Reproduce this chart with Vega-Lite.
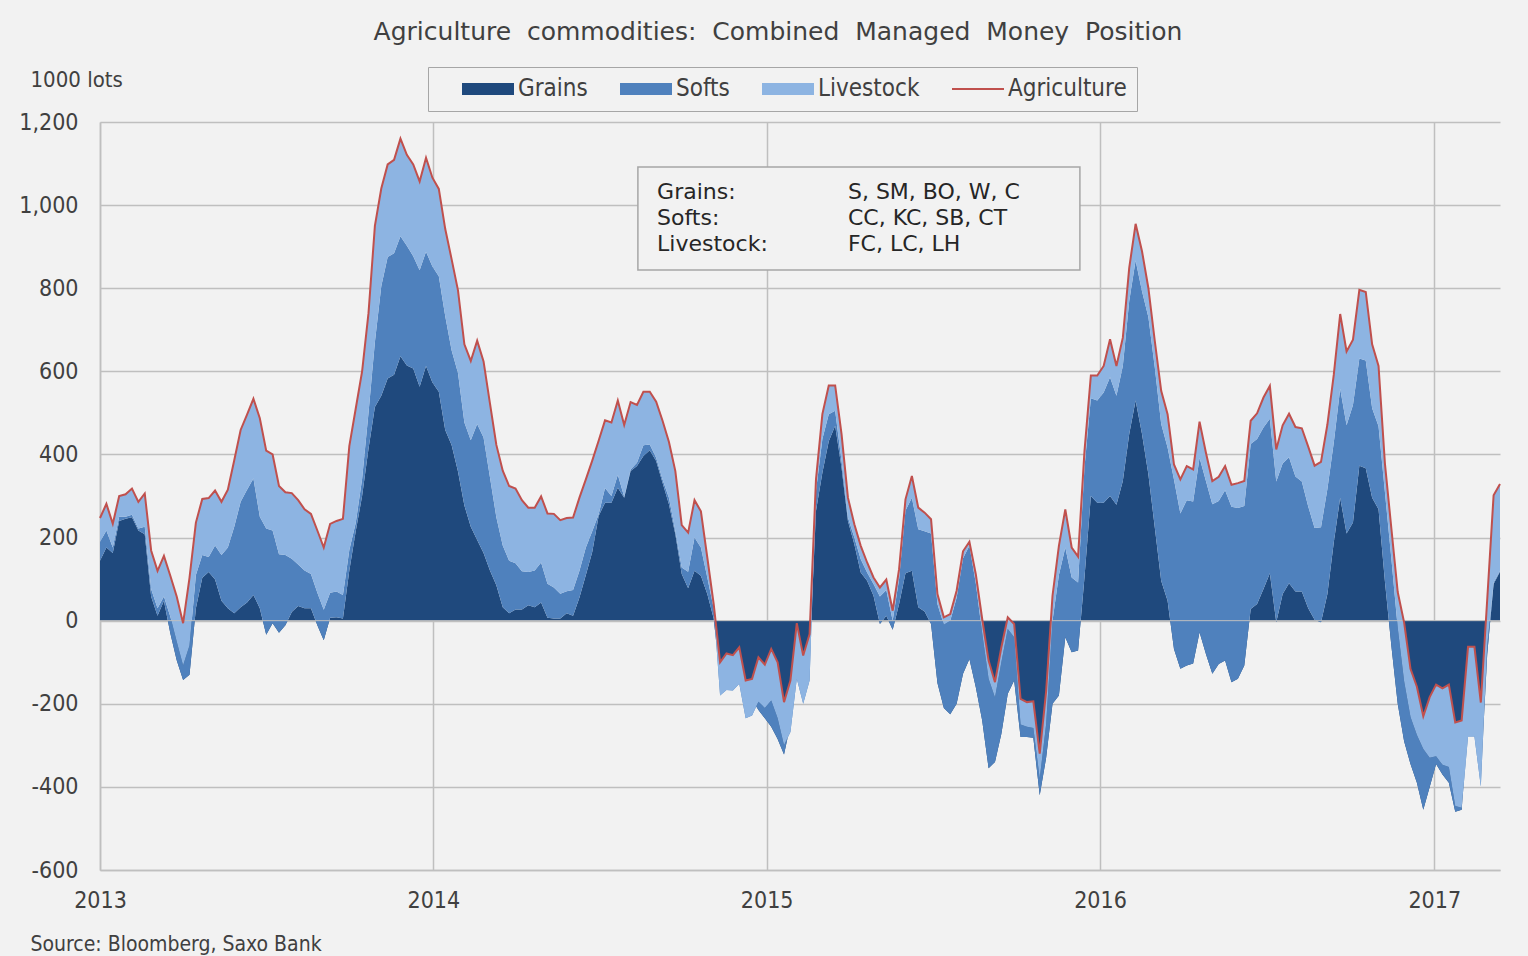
{
"$schema": "https://vega.github.io/schema/vega-lite/v6.json",
"width": 1400, "height": 748,
"autosize": {"type": "none"},
"padding": {"left": 100, "top": 122, "right": 28, "bottom": 86},
"background": "#f2f2f2",
"title": {"text": "Agriculture \u00a0commodities: \u00a0Combined \u00a0Managed \u00a0Money \u00a0Position", "font": "DejaVu Sans", "fontSize": 25, "fontWeight": "normal", "color": "#404040", "anchor": "middle", "frame": "group", "dx": -22, "offset": 22},
"data": {"values": [
{"d":"2013-01-01","Grains":144,"Softs":46,"Livestock":57,"Agriculture":247},
{"d":"2013-01-08","Grains":176,"Softs":41,"Livestock":64,"Agriculture":281},
{"d":"2013-01-15","Grains":163,"Softs":13,"Livestock":57,"Agriculture":233},
{"d":"2013-01-22","Grains":240,"Softs":10,"Livestock":50,"Agriculture":300},
{"d":"2013-01-29","Grains":245,"Softs":5,"Livestock":54,"Agriculture":304},
{"d":"2013-02-05","Grains":249,"Softs":6,"Livestock":63,"Agriculture":318},
{"d":"2013-02-12","Grains":217,"Softs":5,"Livestock":64,"Agriculture":286},
{"d":"2013-02-19","Grains":208,"Softs":18,"Livestock":80,"Agriculture":306},
{"d":"2013-02-26","Grains":58,"Softs":18,"Livestock":93,"Agriculture":169},
{"d":"2013-03-05","Grains":12,"Softs":18,"Livestock":90,"Agriculture":120},
{"d":"2013-03-12","Grains":48,"Softs":10,"Livestock":98,"Agriculture":156},
{"d":"2013-03-19","Grains":-30,"Softs":40,"Livestock":98,"Agriculture":108},
{"d":"2013-03-26","Grains":-95,"Softs":45,"Livestock":108,"Agriculture":58},
{"d":"2013-04-02","Grains":-143,"Softs":35,"Livestock":102,"Agriculture":-6},
{"d":"2013-04-09","Grains":-130,"Softs":70,"Livestock":163,"Agriculture":103},
{"d":"2013-04-16","Grains":30,"Softs":80,"Livestock":126,"Agriculture":236},
{"d":"2013-04-23","Grains":103,"Softs":55,"Livestock":135,"Agriculture":293},
{"d":"2013-04-30","Grains":117,"Softs":36,"Livestock":142,"Agriculture":295},
{"d":"2013-05-07","Grains":99,"Softs":82,"Livestock":132,"Agriculture":313},
{"d":"2013-05-14","Grains":48,"Softs":110,"Livestock":128,"Agriculture":286},
{"d":"2013-05-21","Grains":30,"Softs":146,"Livestock":139,"Agriculture":315},
{"d":"2013-05-28","Grains":18,"Softs":208,"Livestock":160,"Agriculture":386},
{"d":"2013-06-04","Grains":32,"Softs":254,"Livestock":173,"Agriculture":459},
{"d":"2013-06-11","Grains":44,"Softs":271,"Livestock":181,"Agriculture":496},
{"d":"2013-06-18","Grains":62,"Softs":280,"Livestock":192,"Agriculture":534},
{"d":"2013-06-25","Grains":30,"Softs":220,"Livestock":237,"Agriculture":487},
{"d":"2013-07-02","Grains":-34,"Softs":256,"Livestock":187,"Agriculture":409},
{"d":"2013-07-09","Grains":-6,"Softs":223,"Livestock":183,"Agriculture":400},
{"d":"2013-07-16","Grains":-29,"Softs":189,"Livestock":164,"Agriculture":324},
{"d":"2013-07-23","Grains":-11,"Softs":169,"Livestock":151,"Agriculture":309},
{"d":"2013-07-30","Grains":21,"Softs":128,"Livestock":158,"Agriculture":307},
{"d":"2013-08-06","Grains":35,"Softs":100,"Livestock":155,"Agriculture":290},
{"d":"2013-08-13","Grains":30,"Softs":91,"Livestock":147,"Agriculture":268},
{"d":"2013-08-20","Grains":30,"Softs":82,"Livestock":145,"Agriculture":257},
{"d":"2013-08-27","Grains":-11,"Softs":78,"Livestock":150,"Agriculture":217},
{"d":"2013-09-03","Grains":-47,"Softs":73,"Livestock":150,"Agriculture":176},
{"d":"2013-09-10","Grains":7,"Softs":60,"Livestock":166,"Agriculture":233},
{"d":"2013-09-17","Grains":8,"Softs":62,"Livestock":170,"Agriculture":240},
{"d":"2013-09-24","Grains":5,"Softs":57,"Livestock":183,"Agriculture":245},
{"d":"2013-10-01","Grains":121,"Softs":49,"Livestock":250,"Agriculture":420},
{"d":"2013-10-08","Grains":215,"Softs":20,"Livestock":275,"Agriculture":510},
{"d":"2013-10-15","Grains":300,"Softs":41,"Livestock":259,"Agriculture":600},
{"d":"2013-10-22","Grains":414,"Softs":86,"Livestock":240,"Agriculture":740},
{"d":"2013-10-29","Grains":514,"Softs":156,"Livestock":280,"Agriculture":950},
{"d":"2013-11-05","Grains":541,"Softs":264,"Livestock":235,"Agriculture":1040},
{"d":"2013-11-12","Grains":583,"Softs":292,"Livestock":223,"Agriculture":1098},
{"d":"2013-11-19","Grains":592,"Softs":292,"Livestock":225,"Agriculture":1109},
{"d":"2013-11-26","Grains":636,"Softs":289,"Livestock":235,"Agriculture":1160},
{"d":"2013-12-03","Grains":614,"Softs":288,"Livestock":219,"Agriculture":1121},
{"d":"2013-12-10","Grains":607,"Softs":270,"Livestock":221,"Agriculture":1098},
{"d":"2013-12-17","Grains":563,"Softs":280,"Livestock":214,"Agriculture":1057},
{"d":"2013-12-24","Grains":613,"Softs":275,"Livestock":226,"Agriculture":1114},
{"d":"2013-12-31","Grains":573,"Softs":279,"Livestock":214,"Agriculture":1066},
{"d":"2014-01-07","Grains":551,"Softs":278,"Livestock":210,"Agriculture":1039},
{"d":"2014-01-14","Grains":459,"Softs":274,"Livestock":210,"Agriculture":943},
{"d":"2014-01-21","Grains":423,"Softs":228,"Livestock":219,"Agriculture":870},
{"d":"2014-01-28","Grains":359,"Softs":237,"Livestock":199,"Agriculture":795},
{"d":"2014-02-04","Grains":277,"Softs":200,"Livestock":188,"Agriculture":665},
{"d":"2014-02-11","Grains":226,"Softs":208,"Livestock":191,"Agriculture":625},
{"d":"2014-02-18","Grains":194,"Softs":279,"Livestock":201,"Agriculture":674},
{"d":"2014-02-25","Grains":163,"Softs":278,"Livestock":183,"Agriculture":624},
{"d":"2014-03-04","Grains":121,"Softs":224,"Livestock":178,"Agriculture":523},
{"d":"2014-03-11","Grains":85,"Softs":164,"Livestock":174,"Agriculture":423},
{"d":"2014-03-18","Grains":32,"Softs":149,"Livestock":180,"Agriculture":361},
{"d":"2014-03-25","Grains":18,"Softs":126,"Livestock":180,"Agriculture":324},
{"d":"2014-04-01","Grains":27,"Softs":111,"Livestock":180,"Agriculture":318},
{"d":"2014-04-08","Grains":27,"Softs":92,"Livestock":171,"Agriculture":290},
{"d":"2014-04-15","Grains":37,"Softs":80,"Livestock":155,"Agriculture":272},
{"d":"2014-04-22","Grains":32,"Softs":89,"Livestock":151,"Agriculture":272},
{"d":"2014-04-29","Grains":44,"Softs":96,"Livestock":159,"Agriculture":299},
{"d":"2014-05-06","Grains":7,"Softs":82,"Livestock":169,"Agriculture":258},
{"d":"2014-05-13","Grains":5,"Softs":75,"Livestock":177,"Agriculture":257},
{"d":"2014-05-20","Grains":5,"Softs":60,"Livestock":177,"Agriculture":242},
{"d":"2014-05-27","Grains":18,"Softs":53,"Livestock":176,"Agriculture":247},
{"d":"2014-06-03","Grains":12,"Softs":62,"Livestock":174,"Agriculture":248},
{"d":"2014-06-10","Grains":56,"Softs":64,"Livestock":176,"Agriculture":296},
{"d":"2014-06-17","Grains":110,"Softs":66,"Livestock":164,"Agriculture":340},
{"d":"2014-06-24","Grains":165,"Softs":50,"Livestock":170,"Agriculture":385},
{"d":"2014-07-01","Grains":252,"Softs":4,"Livestock":177,"Agriculture":433},
{"d":"2014-07-08","Grains":284,"Softs":35,"Livestock":163,"Agriculture":482},
{"d":"2014-07-15","Grains":284,"Softs":16,"Livestock":177,"Agriculture":477},
{"d":"2014-07-22","Grains":320,"Softs":31,"Livestock":179,"Agriculture":530},
{"d":"2014-07-29","Grains":296,"Softs":2,"Livestock":173,"Agriculture":471},
{"d":"2014-08-05","Grains":360,"Softs":4,"Livestock":162,"Agriculture":526},
{"d":"2014-08-12","Grains":372,"Softs":8,"Livestock":139,"Agriculture":519},
{"d":"2014-08-19","Grains":396,"Softs":26,"Livestock":129,"Agriculture":551},
{"d":"2014-08-26","Grains":410,"Softs":14,"Livestock":127,"Agriculture":551},
{"d":"2014-09-02","Grains":384,"Softs":8,"Livestock":135,"Agriculture":527},
{"d":"2014-09-09","Grains":332,"Softs":8,"Livestock":141,"Agriculture":481},
{"d":"2014-09-16","Grains":280,"Softs":16,"Livestock":134,"Agriculture":430},
{"d":"2014-09-23","Grains":208,"Softs":8,"Livestock":144,"Agriculture":360},
{"d":"2014-09-30","Grains":112,"Softs":16,"Livestock":102,"Agriculture":230},
{"d":"2014-10-07","Grains":78,"Softs":40,"Livestock":94,"Agriculture":212},
{"d":"2014-10-14","Grains":120,"Softs":80,"Livestock":90,"Agriculture":290},
{"d":"2014-10-21","Grains":108,"Softs":68,"Livestock":87,"Agriculture":263},
{"d":"2014-10-28","Grains":64,"Softs":40,"Livestock":48,"Agriculture":152},
{"d":"2014-11-04","Grains":5,"Softs":25,"Livestock":10,"Agriculture":40},
{"d":"2014-11-11","Grains":-140,"Softs":-40,"Livestock":80,"Agriculture":-100},
{"d":"2014-11-18","Grains":-120,"Softs":-47,"Livestock":88,"Agriculture":-79},
{"d":"2014-11-25","Grains":-120,"Softs":-48,"Livestock":85,"Agriculture":-83},
{"d":"2014-12-02","Grains":-110,"Softs":-42,"Livestock":88,"Agriculture":-64},
{"d":"2014-12-09","Grains":-190,"Softs":-45,"Livestock":91,"Agriculture":-144},
{"d":"2014-12-16","Grains":-190,"Softs":-38,"Livestock":88,"Agriculture":-140},
{"d":"2014-12-23","Grains":-215,"Softs":20,"Livestock":107,"Agriculture":-88},
{"d":"2014-12-30","Grains":-235,"Softs":25,"Livestock":104,"Agriculture":-106},
{"d":"2015-01-06","Grains":-255,"Softs":63,"Livestock":124,"Agriculture":-68},
{"d":"2015-01-13","Grains":-285,"Softs":50,"Livestock":135,"Agriculture":-100},
{"d":"2015-01-20","Grains":-322,"Softs":22,"Livestock":104,"Agriculture":-196},
{"d":"2015-01-27","Grains":-250,"Softs":-18,"Livestock":124,"Agriculture":-144},
{"d":"2015-02-03","Grains":-100,"Softs":-40,"Livestock":134,"Agriculture":-6},
{"d":"2015-02-10","Grains":-150,"Softs":-50,"Livestock":116,"Agriculture":-84},
{"d":"2015-02-17","Grains":-90,"Softs":-54,"Livestock":112,"Agriculture":-32},
{"d":"2015-02-24","Grains":264,"Softs":48,"Livestock":28,"Agriculture":340},
{"d":"2015-03-03","Grains":356,"Softs":81,"Livestock":60,"Agriculture":497},
{"d":"2015-03-10","Grains":432,"Softs":65,"Livestock":69,"Agriculture":566},
{"d":"2015-03-17","Grains":469,"Softs":36,"Livestock":61,"Agriculture":566},
{"d":"2015-03-24","Grains":368,"Softs":16,"Livestock":65,"Agriculture":449},
{"d":"2015-03-31","Grains":240,"Softs":8,"Livestock":48,"Agriculture":296},
{"d":"2015-04-07","Grains":184,"Softs":16,"Livestock":32,"Agriculture":232},
{"d":"2015-04-14","Grains":116,"Softs":32,"Livestock":32,"Agriculture":180},
{"d":"2015-04-21","Grains":96,"Softs":20,"Livestock":24,"Agriculture":140},
{"d":"2015-04-28","Grains":60,"Softs":28,"Livestock":16,"Agriculture":104},
{"d":"2015-05-05","Grains":-8,"Softs":66,"Livestock":22,"Agriculture":80},
{"d":"2015-05-12","Grains":12,"Softs":62,"Livestock":25,"Agriculture":99},
{"d":"2015-05-19","Grains":-22,"Softs":22,"Livestock":24,"Agriculture":24},
{"d":"2015-05-26","Grains":40,"Softs":60,"Livestock":24,"Agriculture":124},
{"d":"2015-06-02","Grains":114,"Softs":151,"Livestock":27,"Agriculture":292},
{"d":"2015-06-09","Grains":120,"Softs":176,"Livestock":52,"Agriculture":348},
{"d":"2015-06-16","Grains":32,"Softs":188,"Livestock":52,"Agriculture":272},
{"d":"2015-06-23","Grains":22,"Softs":193,"Livestock":45,"Agriculture":260},
{"d":"2015-06-30","Grains":-8,"Softs":218,"Livestock":34,"Agriculture":244},
{"d":"2015-07-07","Grains":-150,"Softs":190,"Livestock":24,"Agriculture":64},
{"d":"2015-07-14","Grains":-210,"Softs":200,"Livestock":18,"Agriculture":8},
{"d":"2015-07-21","Grains":-225,"Softs":225,"Livestock":16,"Agriculture":16},
{"d":"2015-07-28","Grains":-200,"Softs":255,"Livestock":17,"Agriculture":72},
{"d":"2015-08-04","Grains":-128,"Softs":278,"Livestock":17,"Agriculture":167},
{"d":"2015-08-11","Grains":-92,"Softs":272,"Livestock":10,"Agriculture":190},
{"d":"2015-08-18","Grains":-160,"Softs":250,"Livestock":22,"Agriculture":112},
{"d":"2015-08-25","Grains":-240,"Softs":210,"Livestock":34,"Agriculture":4},
{"d":"2015-09-01","Grains":-355,"Softs":215,"Livestock":44,"Agriculture":-96},
{"d":"2015-09-08","Grains":-340,"Softs":155,"Livestock":37,"Agriculture":-148},
{"d":"2015-09-15","Grains":-272,"Softs":172,"Livestock":36,"Agriculture":-64},
{"d":"2015-09-22","Grains":-176,"Softs":156,"Livestock":28,"Agriculture":8},
{"d":"2015-09-29","Grains":-144,"Softs":104,"Livestock":32,"Agriculture":-8},
{"d":"2015-10-06","Grains":-280,"Softs":30,"Livestock":62,"Agriculture":-188},
{"d":"2015-10-13","Grains":-280,"Softs":25,"Livestock":59,"Agriculture":-196},
{"d":"2015-10-20","Grains":-282,"Softs":24,"Livestock":64,"Agriculture":-194},
{"d":"2015-10-27","Grains":-420,"Softs":40,"Livestock":60,"Agriculture":-320},
{"d":"2015-11-03","Grains":-330,"Softs":80,"Livestock":80,"Agriculture":-170},
{"d":"2015-11-10","Grains":-200,"Softs":200,"Livestock":60,"Agriculture":60},
{"d":"2015-11-17","Grains":-180,"Softs":290,"Livestock":70,"Agriculture":180},
{"d":"2015-11-24","Grains":-40,"Softs":216,"Livestock":92,"Agriculture":268},
{"d":"2015-12-01","Grains":-76,"Softs":180,"Livestock":72,"Agriculture":176},
{"d":"2015-12-08","Grains":-72,"Softs":164,"Livestock":62,"Agriculture":154},
{"d":"2015-12-15","Grains":104,"Softs":264,"Livestock":40,"Agriculture":408},
{"d":"2015-12-22","Grains":300,"Softs":235,"Livestock":55,"Agriculture":590},
{"d":"2015-12-29","Grains":284,"Softs":246,"Livestock":60,"Agriculture":590},
{"d":"2016-01-05","Grains":284,"Softs":265,"Livestock":64,"Agriculture":613},
{"d":"2016-01-12","Grains":300,"Softs":286,"Livestock":91,"Agriculture":677},
{"d":"2016-01-19","Grains":279,"Softs":262,"Livestock":72,"Agriculture":613},
{"d":"2016-01-26","Grains":336,"Softs":277,"Livestock":68,"Agriculture":681},
{"d":"2016-02-02","Grains":449,"Softs":320,"Livestock":80,"Agriculture":849},
{"d":"2016-02-09","Grains":530,"Softs":337,"Livestock":88,"Agriculture":955},
{"d":"2016-02-16","Grains":449,"Softs":344,"Livestock":96,"Agriculture":889},
{"d":"2016-02-23","Grains":352,"Softs":378,"Livestock":70,"Agriculture":800},
{"d":"2016-03-01","Grains":224,"Softs":385,"Livestock":64,"Agriculture":673},
{"d":"2016-03-08","Grains":96,"Softs":377,"Livestock":80,"Agriculture":553},
{"d":"2016-03-15","Grains":48,"Softs":369,"Livestock":80,"Agriculture":497},
{"d":"2016-03-22","Grains":-68,"Softs":408,"Livestock":36,"Agriculture":376},
{"d":"2016-03-29","Grains":-116,"Softs":374,"Livestock":82,"Agriculture":340},
{"d":"2016-04-05","Grains":-108,"Softs":398,"Livestock":82,"Agriculture":372},
{"d":"2016-04-12","Grains":-103,"Softs":390,"Livestock":77,"Agriculture":364},
{"d":"2016-04-19","Grains":-28,"Softs":420,"Livestock":87,"Agriculture":479},
{"d":"2016-04-26","Grains":-80,"Softs":416,"Livestock":68,"Agriculture":404},
{"d":"2016-05-03","Grains":-128,"Softs":408,"Livestock":56,"Agriculture":336},
{"d":"2016-05-10","Grains":-104,"Softs":392,"Livestock":58,"Agriculture":346},
{"d":"2016-05-17","Grains":-96,"Softs":410,"Livestock":58,"Agriculture":372},
{"d":"2016-05-24","Grains":-148,"Softs":422,"Livestock":53,"Agriculture":327},
{"d":"2016-05-31","Grains":-140,"Softs":411,"Livestock":60,"Agriculture":331},
{"d":"2016-06-07","Grains":-108,"Softs":384,"Livestock":60,"Agriculture":336},
{"d":"2016-06-14","Grains":28,"Softs":397,"Livestock":56,"Agriculture":481},
{"d":"2016-06-21","Grains":40,"Softs":397,"Livestock":62,"Agriculture":499},
{"d":"2016-06-28","Grains":76,"Softs":389,"Livestock":72,"Agriculture":537},
{"d":"2016-07-05","Grains":114,"Softs":372,"Livestock":79,"Agriculture":565},
{"d":"2016-07-12","Grains":-4,"Softs":339,"Livestock":77,"Agriculture":412},
{"d":"2016-07-19","Grains":64,"Softs":314,"Livestock":92,"Agriculture":470},
{"d":"2016-07-26","Grains":90,"Softs":303,"Livestock":105,"Agriculture":498},
{"d":"2016-08-02","Grains":70,"Softs":277,"Livestock":119,"Agriculture":466},
{"d":"2016-08-09","Grains":70,"Softs":265,"Livestock":128,"Agriculture":463},
{"d":"2016-08-16","Grains":30,"Softs":245,"Livestock":144,"Agriculture":419},
{"d":"2016-08-23","Grains":2,"Softs":221,"Livestock":150,"Agriculture":373},
{"d":"2016-08-30","Grains":-4,"Softs":229,"Livestock":157,"Agriculture":382},
{"d":"2016-09-06","Grains":64,"Softs":253,"Livestock":155,"Agriculture":472},
{"d":"2016-09-13","Grains":189,"Softs":240,"Livestock":163,"Agriculture":592},
{"d":"2016-09-20","Grains":296,"Softs":262,"Livestock":180,"Agriculture":738},
{"d":"2016-09-27","Grains":210,"Softs":260,"Livestock":178,"Agriculture":648},
{"d":"2016-10-04","Grains":236,"Softs":283,"Livestock":157,"Agriculture":676},
{"d":"2016-10-11","Grains":373,"Softs":258,"Livestock":165,"Agriculture":796},
{"d":"2016-10-18","Grains":367,"Softs":259,"Livestock":165,"Agriculture":791},
{"d":"2016-10-25","Grains":296,"Softs":215,"Livestock":154,"Agriculture":665},
{"d":"2016-11-01","Grains":268,"Softs":200,"Livestock":145,"Agriculture":613},
{"d":"2016-11-08","Grains":94,"Softs":215,"Livestock":69,"Agriculture":378},
{"d":"2016-11-15","Grains":-60,"Softs":210,"Livestock":73,"Agriculture":223},
{"d":"2016-11-22","Grains":-200,"Softs":183,"Livestock":86,"Agriculture":69},
{"d":"2016-11-29","Grains":-290,"Softs":144,"Livestock":142,"Agriculture":-4},
{"d":"2016-12-06","Grains":-345,"Softs":113,"Livestock":116,"Agriculture":-116},
{"d":"2016-12-13","Grains":-390,"Softs":115,"Livestock":116,"Agriculture":-159},
{"d":"2016-12-20","Grains":-455,"Softs":146,"Livestock":79,"Agriculture":-230},
{"d":"2016-12-27","Grains":-400,"Softs":70,"Livestock":146,"Agriculture":-184},
{"d":"2017-01-03","Grains":-345,"Softs":19,"Livestock":172,"Agriculture":-154},
{"d":"2017-01-10","Grains":-370,"Softs":23,"Livestock":184,"Agriculture":-163},
{"d":"2017-01-17","Grains":-390,"Softs":38,"Livestock":198,"Agriculture":-154},
{"d":"2017-01-24","Grains":-460,"Softs":14,"Livestock":201,"Agriculture":-245},
{"d":"2017-01-31","Grains":-455,"Softs":5,"Livestock":210,"Agriculture":-240},
{"d":"2017-02-07","Grains":-250,"Softs":-29,"Livestock":216,"Agriculture":-63},
{"d":"2017-02-14","Grains":-250,"Softs":-29,"Livestock":216,"Agriculture":-63},
{"d":"2017-02-21","Grains":-380,"Softs":-19,"Livestock":202,"Agriculture":-197},
{"d":"2017-02-28","Grains":-80,"Softs":20,"Livestock":111,"Agriculture":51},
{"d":"2017-03-07","Grains":88,"Softs":4,"Livestock":210,"Agriculture":302},
{"d":"2017-03-14","Grains":118,"Softs":2,"Livestock":209,"Agriculture":329}
]},
"config": {
  "view": {"stroke": null},
  "axis": {"labelFont": "DejaVu Sans Condensed, DejaVu Sans", "labelFontSize": 23, "labelColor": "#404040", "gridColor": "#bfbfbf", "gridWidth": 1.5, "domainColor": "#bfbfbf", "domainWidth": 1.5, "ticks": false, "titleFont": "DejaVu Sans Condensed, DejaVu Sans", "titleFontWeight": "normal", "titleColor": "#404040"},
  "legend": {"orient": "none", "legendX": 328, "legendY": -55, "direction": "horizontal", "columns": 4, "labelFont": "DejaVu Sans Condensed, DejaVu Sans", "labelFontSize": 24, "labelColor": "#404040", "symbolSize": 400, "symbolOffset": 38, "labelOffset": 18, "columnPadding": 8, "padding": 10, "strokeColor": "#a6a6a6", "fillColor": "#f2f2f2", "symbolStrokeWidth": 0}
},
"layer": [
  {
    "mark": {"type": "area", "color": "#1F497D", "opacity": 1},
    "encoding": {
      "x": {"field": "d", "type": "temporal", "scale": {"type": "utc", "domain": [{"year": 2013, "month": 1, "date": 1, "utc": true}, {"year": 2017, "month": 3, "date": 14, "utc": true}]},
            "axis": {"values": [{"year": 2013, "month": 1, "date": 1, "utc": true}, {"year": 2014, "month": 1, "date": 1, "utc": true}, {"year": 2015, "month": 1, "date": 1, "utc": true}, {"year": 2016, "month": 1, "date": 1, "utc": true}, {"year": 2017, "month": 1, "date": 1, "utc": true}], "format": "%Y", "labelPadding": 19, "labelFlush": false, "grid": true, "title": "Source: Bloomberg, Saxo Bank", "titleX": -70, "titleY": 74, "titleAlign": "left", "titleBaseline": "middle", "titleFontSize": 21}},
      "y": {"field": "Grains", "type": "quantitative", "scale": {"domain": [-600, 1200], "nice": false, "zero": false},
            "axis": {"values": [-600, -400, -200, 0, 200, 400, 600, 800, 1000, 1200], "labelExpr": "replace(format(datum.value, ','), '\u2212', '-')", "labelPadding": 22, "grid": true, "title": "1000 lots", "titleAngle": 0, "titleAlign": "left", "titleBaseline": "middle", "titleX": -70, "titleY": -43, "titleFontSize": 22}},
      "y2": {"datum": 0}
    }
  },
  {
    "transform": [
      {"fold": ["Grains", "Softs"], "as": ["part", "v"]},
      {"joinaggregate": [{"op": "sum", "field": "v", "as": "GS"}], "groupby": ["d"]},
      {"filter": "datum.part === 'Softs'"}
    ],
    "layer": [
      {
        "mark": {"type": "area", "color": "#4F81BD", "opacity": 1},
        "encoding": {
          "x": {"field": "d", "type": "temporal"},
          "y": {"field": "GS", "type": "quantitative"},
          "y2": {"field": "Grains"}
        }
      },
      {
        "mark": {"type": "area", "color": "#8DB4E2", "opacity": 1},
        "encoding": {
          "x": {"field": "d", "type": "temporal"},
          "y": {"field": "Agriculture", "type": "quantitative"},
          "y2": {"field": "GS"}
        }
      }
    ]
  },
  {
    "data": {"values": [{}]},
    "mark": {"type": "rule", "color": "#bfbfbf", "strokeWidth": 1},
    "encoding": {"y": {"datum": 0, "type": "quantitative"}}
  },
  {
    "mark": {"type": "line", "color": "#C0504D", "strokeWidth": 2},
    "encoding": {
      "x": {"field": "d", "type": "temporal"},
      "y": {"field": "Agriculture", "type": "quantitative"}
    }
  },
  {
    "data": {"values": [{}]},
    "mark": {"type": "rect", "fill": "#f2f2f2", "stroke": "#a6a6a6", "strokeWidth": 1.5},
    "encoding": {
      "x": {"datum": {"year": 2014, "month": 8, "date": 13, "utc": true}, "type": "temporal"},
      "x2": {"datum": {"year": 2015, "month": 12, "date": 10, "utc": true}},
      "y": {"datum": 1092, "type": "quantitative"},
      "y2": {"datum": 844}
    }
  },
  {
    "data": {"values": [{}]},
    "mark": {"type": "text", "text": ["Grains:", "Softs:", "Livestock:"], "align": "left", "baseline": "alphabetic", "lineHeight": 26, "font": "DejaVu Sans", "fontSize": 22, "color": "#262626"},
    "encoding": {
      "x": {"datum": {"year": 2014, "month": 9, "date": 3, "utc": true}, "type": "temporal"},
      "y": {"datum": 1015, "type": "quantitative"}
    }
  },
  {
    "data": {"values": [{}]},
    "mark": {"type": "text", "text": ["S, SM, BO, W, C", "CC, KC, SB, CT", "FC, LC, LH"], "align": "left", "baseline": "alphabetic", "lineHeight": 26, "font": "DejaVu Sans", "fontSize": 22, "color": "#262626"},
    "encoding": {
      "x": {"datum": {"year": 2015, "month": 3, "date": 31, "utc": true}, "type": "temporal"},
      "y": {"datum": 1015, "type": "quantitative"}
    }
  },
  {
    "data": {"values": [{"series": "Grains"}]},
    "transform": [{"filter": "datum.series === 'none'"}],
    "mark": {"type": "point", "filled": true, "opacity": 1, "size": 400},
    "encoding": {
      "color": {"field": "series", "type": "nominal", "scale": {"domain": ["Grains", "Softs", "Livestock", "Agriculture"], "range": ["#1F497D", "#4F81BD", "#8DB4E2", "#C0504D"]}, "legend": {"title": null}},
      "shape": {"field": "series", "type": "nominal", "scale": {"domain": ["Grains", "Softs", "Livestock", "Agriculture"], "range": ["M-2.6,-0.6H2.6V0.6H-2.6Z", "M-2.6,-0.6H2.6V0.6H-2.6Z", "M-2.6,-0.6H2.6V0.6H-2.6Z", "M-2.6,-0.1H2.6V0.1H-2.6Z"]}, "legend": {"title": null}}
    }
  }
]
}
